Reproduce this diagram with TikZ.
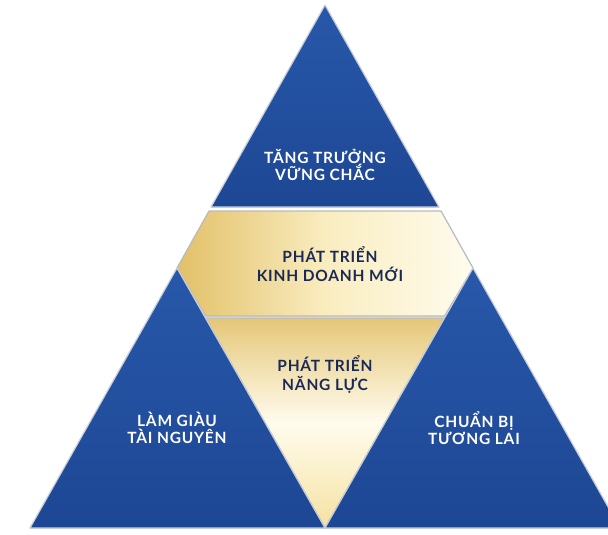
\documentclass[tikz,border=0pt]{standalone}
\usepackage{fontspec}
\setmainfont{Lato}[UprightFont=* Bold, LetterSpace=5]
\definecolor{blueA}{HTML}{2858AA}
\definecolor{blueB}{HTML}{1D4794}
\definecolor{goldA}{HTML}{E2C068}
\definecolor{goldB}{HTML}{F5E2A0}
\definecolor{cream}{HTML}{FFFCEE}
\definecolor{navy}{HTML}{1B2A55}
\definecolor{silver}{HTML}{C9CFD8}
\tikzset{
  bluepiece/.style={top color=blueA, bottom color=blueB},
  goldband/.style={left color=goldA, right color=cream, middle color=goldB!60!cream},
  goldtri/.style={top color=goldA!90!white, bottom color=goldB, middle color=cream},
  edge/.style={draw=silver, line width=1.2pt, line join=round},
  whitelabel/.style={text=white, align=center, font=\fontsize{15.5}{17}\selectfont},
  navylabel/.style={text=navy, align=center, font=\fontsize{15.5}{19}\selectfont}
}
\begin{document}
\begin{tikzpicture}[x=1pt,y=-1pt]
\useasboundingbox (0,0) rectangle (608,535);
\clip (0,0) rectangle (608,535);
% top triangle
\fill[bluepiece] (325,5) -- (439,207) -- (211,207) -- cycle;
\draw[edge] (325,5) -- (439,207) -- (211,207) -- cycle;
% band
\fill[goldband] (209,211) -- (441,211) -- (473,268) -- (444.5,316) -- (205.5,316) -- (177,268) -- cycle;
\draw[edge, draw=silver!75!gray] (209,211) -- (441,211) -- (473,268) -- (444.5,316) -- (205.5,316) -- (177,268) -- cycle;
% inverted triangle
\fill[goldtri] (205.5,318) -- (444.5,318) -- (325,528) -- cycle;
\draw[edge, draw=silver!75!gray] (205.5,318) -- (444.5,318) -- (325,528) -- cycle;
% side triangles
\fill[bluepiece] (177,268) -- (325,528) -- (30,528) -- cycle;
\draw[edge] (177,268) -- (325,528) -- (30,528) -- cycle;
\fill[bluepiece] (473,268) -- (620,528) -- (325,528) -- cycle;
\draw[edge] (473,268) -- (620,528) -- (325,528) -- cycle;
% labels
\node[whitelabel] (top) at (325,165) {TĂNG TRƯỞNG\\VỮNG CHẮC};
\node[navylabel] (band) at (330,264) {PHÁT TRIỂN\\KINH DOANH MỚI};
\node[navylabel] (mid) at (325,375) {PHÁT TRIỂN\\NĂNG LỰC};
\node[whitelabel] (left) at (177,428) {LÀM GIÀU\\TÀI NGUYÊN};
\node[whitelabel] (right) at (474,428) {CHUẨN BỊ\\TƯƠNG LAI};
\end{tikzpicture}
\end{document}
